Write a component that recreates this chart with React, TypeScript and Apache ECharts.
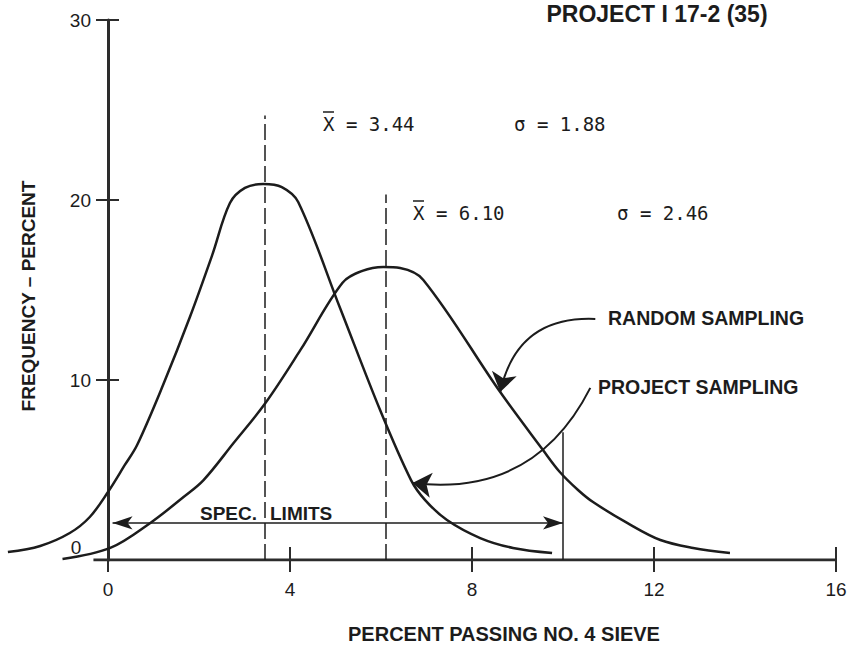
import React, { useEffect, useRef } from 'react';
import * as echarts from 'echarts';

// ---- data (axis units) ----
const xTicks = [0, 4, 8, 12, 16];
const yTicks = [10, 20, 30];

const projectSampling: [number, number][] = [
  [-2.2, 0.44], [-1.49, 0.78], [-0.84, 1.5], [-0.4, 2.39], [0.0, 3.78],
  [0.37, 5.28], [0.64, 6.39], [1.21, 9.72], [1.8, 13.5], [2.29, 16.94],
  [2.68, 19.83], [3.01, 20.67], [3.41, 20.89], [3.82, 20.72], [4.18, 19.89],
  [5.1, 14.0], [5.98, 8.33], [6.66, 4.44], [6.97, 3.33], [7.45, 2.22],
  [8.18, 1.22], [8.9, 0.67], [9.76, 0.39],
];

const randomSampling: [number, number][] = [
  [-1.0, 0.06], [0.05, 0.67], [0.93, 2.06], [1.66, 3.5], [2.1, 4.44],
  [2.76, 6.5], [3.46, 8.72], [4.23, 11.67], [5.15, 15.39], [5.59, 16.06],
  [6.05, 16.28], [6.42, 16.22], [6.93, 15.56], [8.62, 9.33], [9.56, 6.11],
  [9.93, 4.89], [10.33, 3.89], [10.66, 3.22], [11.41, 2.06], [12.14, 1.11],
  [12.86, 0.67], [13.67, 0.39],
];

const projectMean = 3.44;
const projectSigma = 1.88;
const randomMean = 6.10;
const randomSigma = 2.46;
const projectMeanTop = 24.7;
const randomMeanTop = 20.3;
const specLimits = [0, 10];
const specArrowLevel = 2.06;
const upperLimitTop = 7.1;
const xAxisLine: [number, number][] = [[-0.32, 0], [16, 0]];
const randomPointer: [number, number][] = [[10.71, 13.39], [8.62, 9.33]];
const projectPointer: [number, number][] = [[10.6, 9.56], [6.69, 4.28]];

const X_MAX = 16;
const PLOT_LEFT = 108;
const PLOT_RIGHT = 13;
const CHART_W = 849;
// extended (hidden) axis sharing the same scale so that the tails left of 0 can be drawn
const X_EXT_MIN = -PLOT_LEFT / ((CHART_W - PLOT_LEFT - PLOT_RIGHT) / X_MAX);

const INK = '#1c1c1c';
const AXIS = '#2c2c2c';
const SANS = "'Liberation Sans', Arial, Helvetica, sans-serif";
const MONO = "'DejaVu Sans Mono', 'Liberation Mono', monospace";

function txt(text: string, x: number, y: number, font: string, align = 'left', rotation = 0) {
  return {
    type: 'text',
    x,
    y,
    rotation,
    silent: true,
    style: {
      text,
      font,
      fill: INK,
      align,
      verticalAlign: 'middle',
      textAlign: align,
      textVerticalAlign: 'middle',
    },
  };
}

function bar(x1: number, x2: number, y: number) {
  return {
    type: 'line',
    silent: true,
    shape: { x1, y1: y, x2, y2: y },
    style: { stroke: INK, lineWidth: 1.5 },
  };
}

export default function App() {
  const ref = useRef<HTMLDivElement>(null);
  useEffect(() => {
    if (!ref.current) return;
    const chart = echarts.init(ref.current, null, { renderer: 'svg' });
    const tickStyle = { color: AXIS, width: 2 };
    const dashed = { type: [16, 5], width: 1.5, color: INK };
    const onExt = { xAxisIndex: 2, yAxisIndex: 2 };
    const option: any = {
      animation: false,
      backgroundColor: '#ffffff',
      grid: [
        { left: PLOT_LEFT, right: PLOT_RIGHT, top: 20, bottom: 88, containLabel: false, outerBoundsMode: 'none' },
        { left: 0, right: PLOT_RIGHT, top: 20, bottom: 88, containLabel: false, outerBoundsMode: 'none' },
      ],
      xAxis: [
        {
          gridIndex: 0, type: 'value', min: 0, max: X_MAX, interval: 4, position: 'bottom',
          axisLine: { show: false, onZero: false },
          splitLine: { show: false },
          axisTick: { show: true, customValues: xTicks, length: 12, inside: false, lineStyle: tickStyle },
          axisLabel: { customValues: xTicks, margin: 20, fontSize: 19, color: INK, fontFamily: SANS },
        },
        {
          gridIndex: 0, type: 'value', min: 0, max: X_MAX, interval: 4, position: 'bottom',
          axisLine: { show: false, onZero: false },
          splitLine: { show: false },
          axisTick: { show: true, customValues: xTicks.filter((v) => v !== 0), length: 13, inside: true, lineStyle: tickStyle },
          axisLabel: { show: false },
        },
        {
          gridIndex: 1, type: 'value', min: X_EXT_MIN, max: X_MAX, show: false,
          axisLine: { show: false, onZero: false }, splitLine: { show: false },
          axisTick: { show: false }, axisLabel: { show: false },
        },
      ],
      yAxis: [
        {
          gridIndex: 0, type: 'value', min: 0, max: 30, interval: 10, position: 'left',
          axisLine: { show: true, onZero: false, lineStyle: { color: AXIS, width: 3 } },
          splitLine: { show: false },
          axisTick: { show: true, customValues: yTicks, length: 12, inside: false, lineStyle: tickStyle },
          axisLabel: { customValues: yTicks, margin: 17, fontSize: 19, color: INK, fontFamily: SANS },
        },
        {
          gridIndex: 0, type: 'value', min: 0, max: 30, interval: 10, position: 'left',
          axisLine: { show: false, onZero: false },
          splitLine: { show: false },
          axisTick: { show: true, customValues: yTicks, length: 11, inside: true, lineStyle: tickStyle },
          axisLabel: { show: false },
        },
        {
          gridIndex: 1, type: 'value', min: 0, max: 30, show: false,
          axisLine: { show: false, onZero: false }, splitLine: { show: false },
          axisTick: { show: false }, axisLabel: { show: false },
        },
      ],
      series: [
        {
          name: 'Project sampling', type: 'line', ...onExt, data: projectSampling, smooth: 0.35,
          showSymbol: false, symbol: 'none', silent: true,
          lineStyle: { color: INK, width: 2.5 }, z: 3,
        },
        {
          name: 'Random sampling', type: 'line', ...onExt, data: randomSampling, smooth: 0.35,
          showSymbol: false, symbol: 'none', silent: true,
          lineStyle: { color: INK, width: 2.5 }, z: 3,
        },
        {
          name: 'pointers', type: 'lines', coordinateSystem: 'cartesian2d', ...onExt,
          silent: true, symbol: ['none', 'arrow'], symbolSize: [11, 19], z: 4,
          itemStyle: { color: '#3a3a3a' },
          lineStyle: { color: INK, width: 2, opacity: 1 },
          data: [
            { coords: randomPointer, lineStyle: { curveness: -0.42, color: INK, width: 2 } },
            { coords: projectPointer, lineStyle: { curveness: 0.35, color: INK, width: 2 } },
          ],
        },
        {
          name: 'axis', type: 'line', ...onExt, data: xAxisLine, showSymbol: false, symbol: 'none', silent: true,
          lineStyle: { color: AXIS, width: 3 }, itemStyle: { color: '#3a3a3a' }, z: 2,
          markLine: {
            silent: true,
            symbol: ['none', 'none'],
            label: { show: false },
            animation: false,
            itemStyle: { color: '#3a3a3a' },
            data: [
              [{ coord: [projectMean, 0], lineStyle: dashed }, { coord: [projectMean, projectMeanTop] }],
              [{ coord: [randomMean, 0], lineStyle: dashed }, { coord: [randomMean, randomMeanTop] }],
              [
                { coord: [specLimits[1], 0], lineStyle: { type: 'solid', width: 1.5, color: INK } },
                { coord: [specLimits[1], upperLimitTop] },
              ],
              [
                { coord: [specLimits[0] + 0.1, specArrowLevel], symbol: 'arrow', symbolSize: [10, 20], lineStyle: { type: 'solid', width: 1.5, color: INK } },
                { coord: [specLimits[1], specArrowLevel], symbol: 'arrow', symbolSize: [10, 20] },
              ],
            ],
          },
        },
      ],
      graphic: [
        txt('PROJECT I 17-2 (35)', 657, 14, `bold 23px ${SANS}`, 'center'),
        txt(`X = ${projectMean.toFixed(2)}`, 323, 124, `19px ${MONO}`),
        bar(323, 334, 112),
        txt(`\u03c3 = ${projectSigma.toFixed(2)}`, 514, 124, `19px ${MONO}`),
        txt(`X = ${randomMean.toFixed(2)}`, 413, 213, `19px ${MONO}`),
        bar(413, 424, 201),
        txt(`\u03c3 = ${randomSigma.toFixed(2)}`, 617, 213, `19px ${MONO}`),
        txt('RANDOM SAMPLING', 608, 318, `bold 19.5px ${SANS}`),
        txt('PROJECT SAMPLING', 598, 387, `bold 19.5px ${SANS}`),
        txt('SPEC.', 200, 513, `bold 19px ${SANS}`),
        txt('LIMITS', 270, 513, `bold 19px ${SANS}`),
        txt('FREQUENCY \u2013 PERCENT', 28, 296, `bold 19px ${SANS}`, 'center', Math.PI / 2),
        txt('PERCENT PASSING NO. 4 SIEVE', 504, 634, `bold 20px ${SANS}`, 'center'),
        txt('0', 76, 547, `19px ${SANS}`, 'center'),
      ],
    };
    chart.setOption(option);
    return () => chart.dispose();
  }, []);
  return (
    <div
      ref={ref}
      style={{ position: 'fixed', left: 0, top: 0, width: 849, height: 648, background: '#fff' }}
    />
  );
}
